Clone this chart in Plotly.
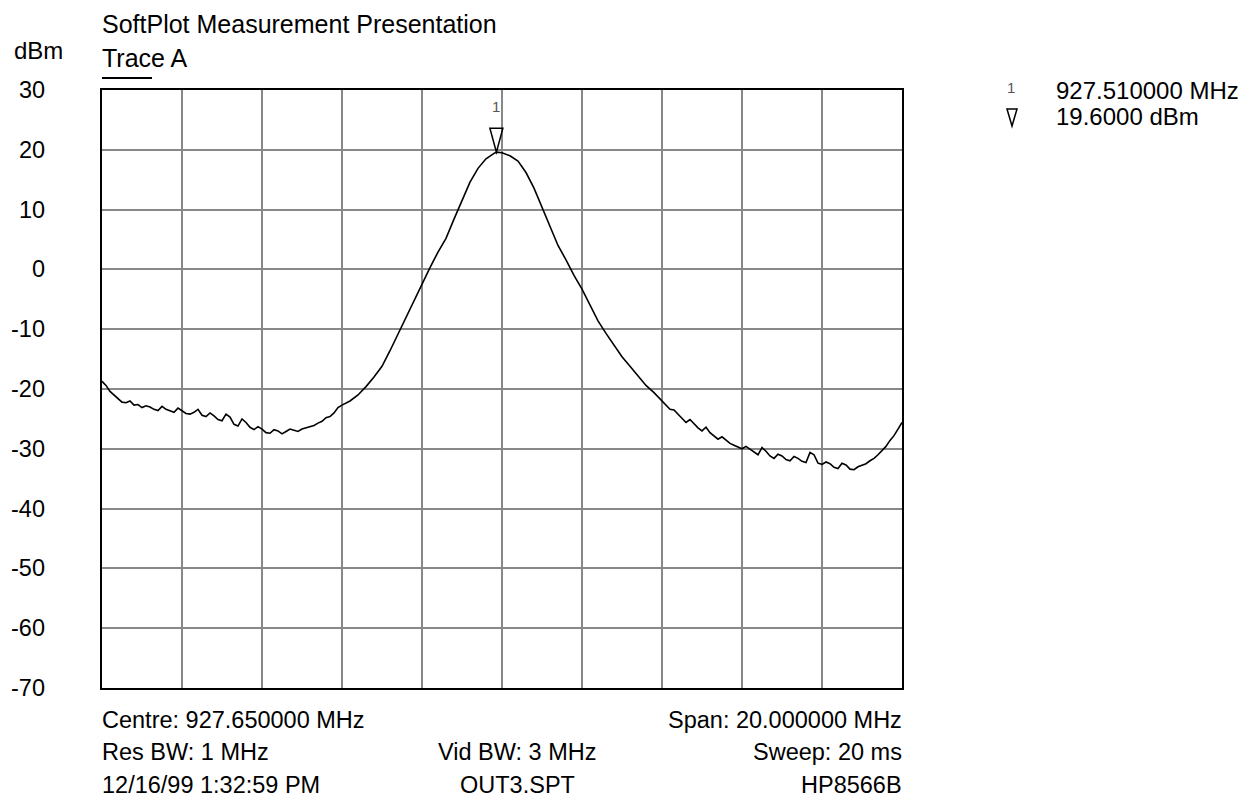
import plotly.graph_objects as go

# ---- data (frequency in MHz, level in dBm) ----
freq_low = [917.65, 917.75, 917.85, 917.95,
            918.05, 918.15, 918.25, 918.35, 918.45, 918.55, 918.65, 918.75, 918.85, 918.95,
            919.05, 919.15, 919.25, 919.35, 919.45, 919.55, 919.65, 919.75, 919.85, 919.95,
            920.05, 920.15, 920.25, 920.35, 920.45, 920.55, 920.65, 920.75, 920.85, 920.95,
            921.05, 921.15, 921.25, 921.35, 921.45, 921.55, 921.65, 921.75, 921.85, 921.95,
            922.05, 922.15, 922.25, 922.35, 922.45, 922.55, 922.65, 922.75, 922.85, 922.95,
            923.05, 923.15, 923.25, 923.35, 923.45, 923.55, 923.65]
level_low = [-18.7, -19.4, -20.4, -21.0,
             -21.6, -22.2, -22.3, -22.0, -22.7, -22.6, -23.1, -22.8, -23.0, -23.4,
             -23.6, -22.9, -23.4, -23.7, -23.9, -23.2, -23.6, -24.1, -24.2, -23.9,
             -23.4, -24.4, -24.6, -24.0, -24.5, -25.1, -25.3, -24.2, -24.7, -25.9,
             -26.2, -25.0, -25.6, -26.4, -26.8, -26.3, -26.7, -27.3, -27.4, -26.8,
             -27.0, -27.5, -27.1, -26.7, -26.9, -27.1, -26.7, -26.5, -26.2, -26.1,
             -25.7, -25.4, -24.8, -24.6, -24.0, -23.1, -22.7]

freq_mid = [923.85, 924.05, 924.25, 924.45, 924.65, 924.85, 925.05, 925.25, 925.45, 925.65,
            925.85, 926.05, 926.25, 926.45, 926.65, 926.85, 927.05, 927.25, 927.45, 927.51,
            927.65, 927.85, 928.05, 928.25, 928.45, 928.65, 928.85, 929.05, 929.25, 929.45,
            929.65, 929.85, 930.05, 930.25, 930.45, 930.65, 930.85, 931.05, 931.25, 931.45,
            931.65]
level_mid = [-22.0, -21.0, -19.6, -18.0, -16.2, -13.6, -10.8, -8.1, -5.3, -2.6,
             0.3, 2.9, 5.2, 8.4, 11.6, 14.6, 16.9, 18.5, 19.4, 19.6,
             19.5, 19.0, 18.1, 16.2, 13.6, 10.3, 7.3, 4.0, 1.6, -1.0,
             -3.3, -6.0, -8.6, -10.7, -12.6, -14.6, -16.2, -17.8, -19.4, -20.6,
             -22.0]

freq_high = [931.75, 931.85, 931.95,
             932.05, 932.15, 932.25, 932.35, 932.45, 932.55, 932.65, 932.75, 932.85, 932.95,
             933.05, 933.15, 933.25, 933.35, 933.45, 933.55, 933.65, 933.75, 933.85, 933.95,
             934.05, 934.15, 934.25, 934.35, 934.45, 934.55, 934.65, 934.75, 934.85, 934.95,
             935.05, 935.15, 935.25, 935.35, 935.45, 935.55, 935.65, 935.75, 935.85, 935.95,
             936.05, 936.15, 936.25, 936.35, 936.45, 936.55, 936.65, 936.75, 936.85, 936.95,
             937.05, 937.15, 937.25, 937.35, 937.45, 937.55, 937.65]
level_high = [-22.6, -23.4, -23.5,
              -24.2, -24.9, -25.6, -25.1, -25.8, -26.5, -27.0, -26.4, -27.3, -27.8,
              -28.4, -28.0, -28.6, -29.1, -29.4, -29.7, -30.0, -29.6, -30.1, -30.6,
              -31.0, -29.8, -30.4, -31.2, -31.6, -30.9, -31.2, -31.8, -32.0, -31.3,
              -31.6, -32.1, -32.3, -30.6, -31.0, -32.4, -32.6, -32.2, -32.5, -33.1,
              -33.3, -32.4, -32.7, -33.4, -33.5, -33.0, -32.8, -32.5, -32.0, -31.6,
              -31.0, -30.3, -29.6, -28.6, -27.8, -26.7, -25.6]

centre_mhz = 927.65
span_mhz = 20.0
y_ticks = [30, 20, 10, 0, -10, -20, -30, -40, -50, -60, -70]
marker_freq = 927.51
marker_dbm = 19.6

title_text = "SoftPlot Measurement Presentation"
trace_name = "Trace A"
unit_text = "dBm"
footer_rows = [
    ("Centre: 927.650000 MHz", "", "Span: 20.000000 MHz"),
    ("Res BW: 1 MHz", "Vid BW: 3 MHz", "Sweep: 20 ms"),
    ("12/16/99 1:32:59 PM", "OUT3.SPT", "HP8566B"),
]
readout_freq = "927.510000 MHz"
readout_level = "19.6000 dBm"

assert len(freq_low) == len(level_low)
assert len(freq_mid) == len(level_mid)
assert len(freq_high) == len(level_high)
freq_mhz = freq_low + freq_mid + freq_high
level_dbm = level_low + level_mid + level_high

# ---- figure ----
FONT = "Liberation Sans, Arial, Helvetica, sans-serif"
FS = 23.5
BODY = 8                     # default page margin of the html body
W, H = 1257 - BODY, 804 - BODY
# plot area in page pixels
PX0, PX1, PY0, PY1 = 102, 902, 90, 688
L, T = PX0 - BODY, PY0 - BODY
R, B = W - (PX1 - BODY), H - (PY1 - BODY)
PW, PH = PX1 - PX0, PY1 - PY0


def px_x(px):
    return (px - PX0) / PW


def px_y(py):
    return (PY1 - py) / PH


fig = go.Figure()
fig.add_trace(go.Scatter(x=freq_mhz, y=level_dbm, mode="lines",
                         line=dict(color="black", width=1.6), hoverinfo="skip",
                         showlegend=False))

x0 = centre_mhz - span_mhz / 2
x1 = centre_mhz + span_mhz / 2

fig.update_layout(
    width=W, height=H,
    margin=dict(l=L, r=R, t=T, b=B, pad=0),
    paper_bgcolor="white", plot_bgcolor="white",
    font=dict(family=FONT, size=FS, color="black"),
    showlegend=False,
    xaxis=dict(range=[x0, x1], tick0=x0, dtick=span_mhz / 10, showticklabels=False,
               showgrid=True, gridcolor="#888888", gridwidth=1.6, zeroline=False,
               showline=True, linecolor="black", linewidth=2.4, mirror=True,
               ticks="", fixedrange=True),
    yaxis=dict(range=[min(y_ticks), max(y_ticks)], dtick=10, showticklabels=False,
               showgrid=True, gridcolor="#888888", gridwidth=1.6, zeroline=False,
               showline=True, linecolor="black", linewidth=2.4, mirror=True,
               ticks="", fixedrange=True),
)

ann = []
# y tick labels
for v in y_ticks:
    ann.append(dict(x=px_x(47), xref="paper", y=v, yref="y", text=str(v),
                    xanchor="right", yanchor="middle", showarrow=False))
# headers
ann.append(dict(x=0, xref="paper", y=px_y(24), yref="paper", text=title_text,
                xanchor="left", yanchor="middle", showarrow=False, xshift=-2,
                font=dict(size=25)))
ann.append(dict(x=0, xref="paper", y=px_y(58), yref="paper", text=trace_name,
                xanchor="left", yanchor="middle", showarrow=False, xshift=-2,
                font=dict(size=25)))
ann.append(dict(x=px_x(12), xref="paper", y=px_y(51), yref="paper", text=unit_text,
                xanchor="left", yanchor="middle", showarrow=False, font=dict(size=24)))
# footer
row_y = [720, 752, 785]
for (lt, mt, rt), py in zip(footer_rows, row_y):
    if lt:
        ann.append(dict(x=0, xref="paper", y=px_y(py), yref="paper", text=lt,
                        xanchor="left", yanchor="middle", showarrow=False, xshift=-2))
    if mt:
        ann.append(dict(x=px_x(517), xref="paper", y=px_y(py), yref="paper", text=mt,
                        xanchor="center", yanchor="middle", showarrow=False))
    if rt:
        ann.append(dict(x=1, xref="paper", y=px_y(py), yref="paper", text=rt,
                        xanchor="right", yanchor="middle", showarrow=False, xshift=2))
# marker number on the plot
ann.append(dict(x=marker_freq, xref="x", y=marker_dbm, yref="y", text="1",
                showarrow=False, yshift=46, font=dict(size=15, color="#555555"),
                xanchor="center", yanchor="middle"))
# readout on the right
ann.append(dict(x=px_x(1011), xref="paper", y=px_y(87), yref="paper", text="1",
                showarrow=False, font=dict(size=15, color="#555555"),
                xanchor="center", yanchor="middle", height=16))
ann.append(dict(x=px_x(1054), xref="paper", y=px_y(90), yref="paper", text=readout_freq,
                xanchor="left", yanchor="middle", showarrow=False, font=dict(size=24),
                height=24))
ann.append(dict(x=px_x(1054), xref="paper", y=px_y(116), yref="paper", text=readout_level,
                xanchor="left", yanchor="middle", showarrow=False, font=dict(size=24),
                height=24))
fig.update_layout(annotations=ann)

shapes = []
# underline under "Trace A"
shapes.append(dict(type="line", xref="paper", yref="paper",
                   x0=px_x(102), x1=px_x(152), y0=px_y(78), y1=px_y(78),
                   line=dict(color="black", width=2)))
# marker triangle at the peak
shapes.append(dict(type="path", xref="x", yref="y", xsizemode="pixel", ysizemode="pixel",
                   xanchor=marker_freq, yanchor=marker_dbm,
                   path="M -6.5 24 L 6.5 24 L 0 0 Z",
                   line=dict(color="black", width=1.5), fillcolor="rgba(0,0,0,0)"))
# readout triangle symbol
shapes.append(dict(type="path", xref="paper", yref="paper", xsizemode="pixel", ysizemode="pixel",
                   xanchor=px_x(1012), yanchor=px_y(109),
                   path="M -5 0 L 5 0 L 0 -17 Z",
                   line=dict(color="black", width=1.5), fillcolor="rgba(0,0,0,0)"))
fig.update_layout(shapes=shapes)

fig.write_html("out.html")
